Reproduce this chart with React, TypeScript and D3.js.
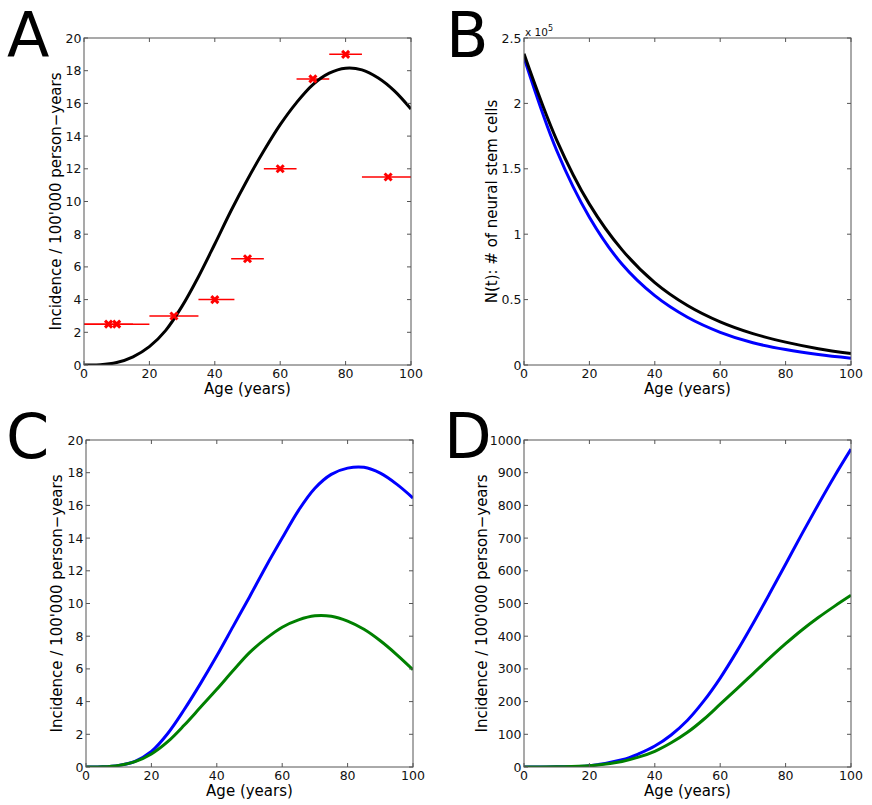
import React from "react";
import * as d3 from "d3";

// ---------- data ----------
const X_TICKS = [0, 20, 40, 60, 80, 100];

// Panel A
const A_Y_TICKS = [0, 2, 4, 6, 8, 10, 12, 14, 16, 18, 20];
const A_MODEL_AGE = [0, 5, 10, 15, 20, 25, 30, 35, 40, 45, 50, 55, 60, 65, 70, 75, 80, 85, 90, 95, 100];
const A_MODEL_VAL = [0, 0.01, 0.15, 0.5, 1.12, 2.12, 3.6, 5.4, 7.4, 9.45, 11.35, 13.1, 14.7, 16.05, 17.15, 17.85, 18.15, 18.05, 17.55, 16.75, 15.65];
const A_OBS_AGE = [7.5, 10, 27.5, 40, 50, 60, 70, 80, 93];
const A_OBS_VAL = [2.5, 2.5, 3, 4, 6.5, 12, 17.5, 19, 11.5];
const A_OBS_LO = [0, 0, 20, 35, 45, 55, 65, 75, 85];
const A_OBS_HI = [15, 20, 35, 46, 55, 65, 75, 85, 100];

// Panel B (units of 10^5)
const B_Y_TICKS = [0, 0.5, 1, 1.5, 2, 2.5];
const B_Y_LABELS = ["0", "0.5", "1", "1.5", "2", "2.5"];
const B_AGE = [0, 10, 20, 30, 40, 50, 60, 70, 80, 90, 100];
const B_BLACK = [2.38, 1.72, 1.23, 0.88, 0.63, 0.455, 0.33, 0.24, 0.175, 0.125, 0.087];
const B_BLUE = [2.35, 1.64, 1.13, 0.77, 0.53, 0.365, 0.25, 0.17, 0.118, 0.08, 0.052];

// Panel C
const C_Y_TICKS = [0, 2, 4, 6, 8, 10, 12, 14, 16, 18, 20];
const C_AGE = [0, 5, 10, 15, 20, 25, 30, 35, 40, 45, 50, 55, 60, 65, 70, 75, 80, 85, 90, 95, 100];
const C_BLUE = [0, 0.01, 0.1, 0.35, 0.95, 2.05, 3.5, 5.1, 6.8, 8.6, 10.4, 12.25, 14.0, 15.7, 17.05, 17.9, 18.28, 18.33, 17.97, 17.3, 16.45];
const C_GREEN = [0, 0.01, 0.1, 0.33, 0.8, 1.55, 2.55, 3.65, 4.75, 5.9, 7.0, 7.85, 8.55, 9.0, 9.25, 9.22, 8.92, 8.42, 7.72, 6.88, 5.95];

// Panel D
const D_Y_TICKS = [0, 100, 200, 300, 400, 500, 600, 700, 800, 900, 1000];
const D_AGE = [0, 10, 20, 30, 35, 40, 45, 50, 55, 60, 65, 70, 75, 80, 85, 90, 95, 100];
const D_BLUE = [0, 0.5, 4, 22, 40, 64, 98, 143, 202, 272, 352, 438, 528, 620, 713, 803, 890, 972];
const D_GREEN = [0, 0.4, 3.5, 17, 30, 48, 74, 106, 146, 192, 238, 285, 332, 377, 419, 457, 492, 525];

const INC_LABEL = "Incidence / 100'000 person\u2212years";
const FONT = "DejaVu Sans, Verdana, sans-serif";

type Series = { ages: number[]; vals: number[]; color: string };

type PanelProps = {
  id: string;
  left: number;
  top: number;
  yMax: number;
  yTicks: number[];
  yTickLabels?: string[];
  yLabel: string;
  yLabelX: number;
  letter: string;
  letterX: number;
  letterY: number;
  series: Series[];
  obs?: boolean;
  exponent?: boolean;
};

const W = 327;
const H = 327;

function Panel(p: PanelProps) {
  const x = d3.scaleLinear().domain([0, 100]).range([p.left, p.left + W]);
  const y = d3.scaleLinear().domain([0, p.yMax]).range([p.top + H, p.top]);
  const line = d3
    .line<[number, number]>()
    .x((d) => x(d[0]))
    .y((d) => y(d[1]))
    .curve(d3.curveCatmullRom.alpha(0.5));
  const tickLen = 4;
  const axisColor = "#555";
  const clipId = "clip-" + p.id;
  return (
    <g>
      <defs>
        <clipPath id={clipId}>
          <rect x={p.left} y={p.top} width={W} height={H} />
        </clipPath>
      </defs>
      <text x={p.letterX} y={p.letterY} fontSize={62} fontFamily={FONT} fill="#000">
        {p.letter}
      </text>
      {/* data */}
      <g clipPath={`url(#${clipId})`}>
        {p.obs &&
          A_OBS_AGE.map((a, i) => (
            <line
              key={"eb" + i}
              x1={x(A_OBS_LO[i])}
              x2={x(A_OBS_HI[i])}
              y1={y(A_OBS_VAL[i])}
              y2={y(A_OBS_VAL[i])}
              stroke="#ff0000"
              strokeWidth={1.5}
            />
          ))}
        {p.series.map((s, i) => (
          <path
            key={"s" + i}
            d={line(s.ages.map((a, j) => [a, s.vals[j]] as [number, number])) || ""}
            fill="none"
            stroke={s.color}
            strokeWidth={3}
          />
        ))}
      </g>
      {p.obs &&
        A_OBS_AGE.map((a, i) => {
          const cx = x(a);
          const cy = y(A_OBS_VAL[i]);
          const r = 3.5;
          return (
            <g key={"m" + i} stroke="#ff0000" strokeWidth={3}>
              <line x1={cx - r} y1={cy - r} x2={cx + r} y2={cy + r} />
              <line x1={cx - r} y1={cy + r} x2={cx + r} y2={cy - r} />
            </g>
          );
        })}
      {/* ticks */}
      {X_TICKS.map((t) => (
        <g key={"xt" + t}>
          <line x1={x(t)} x2={x(t)} y1={p.top + H} y2={p.top + H - tickLen} stroke={axisColor} strokeWidth={1} />
          <line x1={x(t)} x2={x(t)} y1={p.top} y2={p.top + tickLen} stroke={axisColor} strokeWidth={1} />
          <text
            x={x(t)}
            y={p.top + H + 12.5}
            fontSize={12.5}
            fontFamily={FONT}
            textAnchor="middle"
            fill="#111"
          >
            {t}
          </text>
        </g>
      ))}
      {p.yTicks.map((t, i) => (
        <g key={"yt" + t}>
          <line x1={p.left} x2={p.left + tickLen} y1={y(t)} y2={y(t)} stroke={axisColor} strokeWidth={1} />
          <line x1={p.left + W} x2={p.left + W - tickLen} y1={y(t)} y2={y(t)} stroke={axisColor} strokeWidth={1} />
          <text
            x={p.left - 2.5}
            y={y(t) + 4.5}
            fontSize={12.5}
            fontFamily={FONT}
            textAnchor="end"
            fill="#111"
          >
            {p.yTickLabels ? p.yTickLabels[i] : String(t)}
          </text>
        </g>
      ))}
      <rect x={p.left} y={p.top} width={W} height={H} fill="none" stroke={axisColor} strokeWidth={1} />
      {p.exponent && (
        <text x={p.left + 1} y={p.top - 2} fontSize={10.5} fontFamily={FONT} fill="#111">
          x 10
          <tspan fontSize={8} dy={-5}>
            5
          </tspan>
        </text>
      )}
      {/* axis labels */}
      <text
        x={p.left + W / 2}
        y={p.top + H + 29}
        fontSize={15}
        fontFamily={FONT}
        textAnchor="middle"
        fill="#000"
      >
        Age (years)
      </text>
      <text
        transform={`translate(${p.yLabelX},${p.top + H / 2}) rotate(-90)`}
        fontSize={15}
        fontFamily={FONT}
        textAnchor="middle"
        fill="#000"
      >
        {p.yLabel}
      </text>
    </g>
  );
}

export default function App() {
  return (
    <svg
      width={872}
      height={805}
      style={{ position: "absolute", left: 0, top: 0, background: "#fff" }}
    >
      <rect x={0} y={0} width={872} height={805} fill="#fff" />
      <Panel
        id="A"
        left={84}
        top={38}
        yMax={20}
        yTicks={A_Y_TICKS}
        yLabel={INC_LABEL}
        yLabelX={61}
        letter="A"
        letterX={7}
        letterY={57}
        obs
        series={[{ ages: A_MODEL_AGE, vals: A_MODEL_VAL, color: "#000" }]}
      />
      <Panel
        id="B"
        left={524}
        top={38}
        yMax={2.5}
        yTicks={B_Y_TICKS}
        yLabel="N(t): # of neural stem cells"
        yTickLabels={B_Y_LABELS}
        yLabelX={497}
        letter="B"
        letterX={446}
        letterY={57}
        exponent
        series={[
          { ages: B_AGE, vals: B_BLUE, color: "#0000ff" },
          { ages: B_AGE, vals: B_BLACK, color: "#000" },
        ]}
      />
      <Panel
        id="C"
        left={86}
        top={440}
        yMax={20}
        yTicks={C_Y_TICKS}
        yLabel={INC_LABEL}
        yLabelX={62}
        letter="C"
        letterX={6}
        letterY={458}
        series={[
          { ages: C_AGE, vals: C_BLUE, color: "#0000ff" },
          { ages: C_AGE, vals: C_GREEN, color: "#008000" },
        ]}
      />
      <Panel
        id="D"
        left={524}
        top={440}
        yMax={1000}
        yTicks={D_Y_TICKS}
        yLabel={INC_LABEL}
        yLabelX={487}
        letter="D"
        letterX={444}
        letterY={458}
        series={[
          { ages: D_AGE, vals: D_BLUE, color: "#0000ff" },
          { ages: D_AGE, vals: D_GREEN, color: "#008000" },
        ]}
      />
    </svg>
  );
}
